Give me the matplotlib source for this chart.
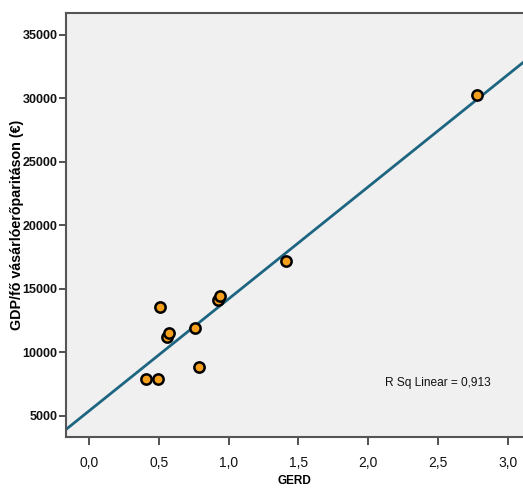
import numpy as np
import matplotlib
matplotlib.use('Agg')
import matplotlib.pyplot as plt
from matplotlib.ticker import FuncFormatter

# GERD (% of GDP) vs GDP per capita at PPP (EUR)
gerd = [0.41, 0.49, 0.51, 0.56, 0.57, 0.76, 0.79, 0.925, 0.94, 1.41, 2.78]
gdp = [7900, 7900, 13580, 11200, 11510, 11900, 8810, 14110, 14420, 17200, 30250]

x_ticks = [0.0, 0.5, 1.0, 1.5, 2.0, 2.5, 3.0]
y_ticks = [5000, 10000, 15000, 20000, 25000, 30000, 35000]

plt.rcParams['font.family'] = ['Liberation Sans', 'DejaVu Sans']

fig = plt.figure(figsize=(5.23, 4.92), dpi=100)
ax = fig.add_axes([0.1262, 0.1118, 0.8738, 0.8608])
ax.set_facecolor('#f0f0f0')

xlim = (-0.167, 3.11)
ylim = (3330, 36670)

slope, intercept = np.polyfit(gerd, gdp, 1)
xs = np.array(xlim)
ax.plot(xs, slope * xs + intercept, color='#1d6580', lw=2, zorder=2)

ax.scatter(gerd, gdp, s=55, facecolor='#f5a01c', edgecolor='black',
           linewidth=1.8, zorder=3)

ax.text(2.12, 7575, 'R Sq Linear = 0,913', ha='left', va='center',
        fontsize=8.6, color='#111111')

ax.set_xlim(*xlim)
ax.set_ylim(*ylim)
ax.set_xticks(x_ticks)
ax.set_yticks(y_ticks)
ax.xaxis.set_major_formatter(FuncFormatter(lambda v, p: f'{v:.1f}'.replace('.', ',')))

for lab in ax.get_xticklabels():
    lab.set_fontsize(10)
for lab in ax.get_yticklabels():
    lab.set_fontsize(9)
    lab.set_fontweight('bold')
ax.tick_params(axis='both', direction='out', length=6, width=1.2,
               color='#333333', labelcolor='#111111')
ax.tick_params(axis='x', pad=8)
ax.tick_params(axis='y', length=5, pad=1)

for side in ['left', 'bottom', 'top']:
    ax.spines[side].set_color('#555555')
    ax.spines[side].set_linewidth(1.5)
ax.spines['right'].set_visible(False)

ax.set_xlabel('GERD', fontsize=8.5, fontweight='bold', labelpad=3)
ax.set_ylabel('GDP/fő vásárlóerőparitáson (€)', fontsize=10.3,
              fontweight='bold')
ax.yaxis.set_label_coords(-0.092, 0.502)

fig.savefig('out.png', dpi=100)
